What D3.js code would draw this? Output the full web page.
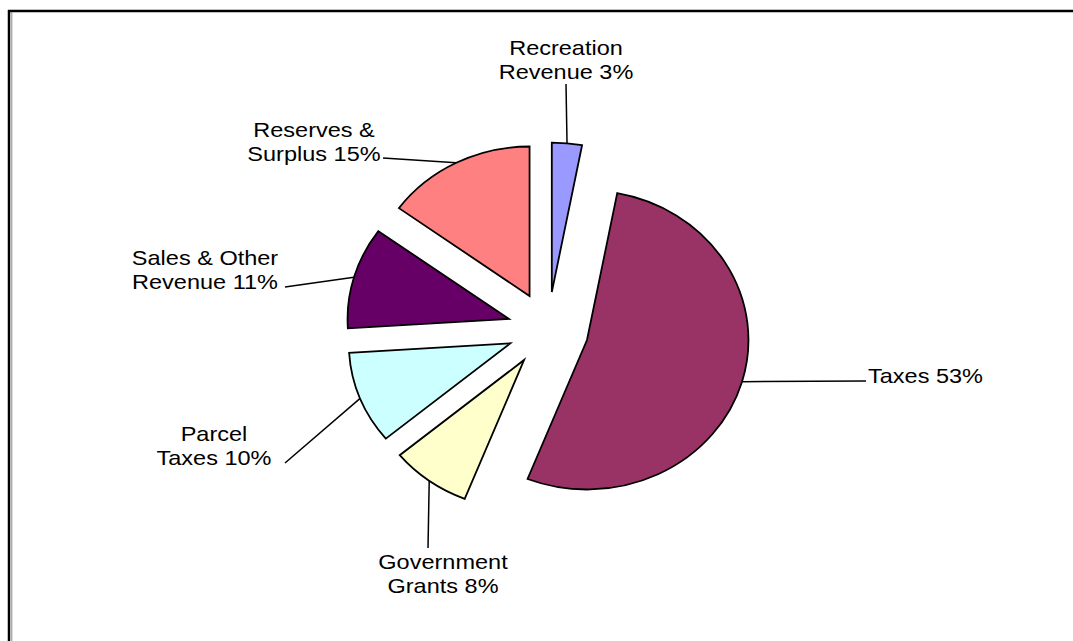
<!DOCTYPE html>
<html>
<head>
<meta charset="utf-8">
<script src="https://cdn.jsdelivr.net/npm/d3@7/dist/d3.min.js"></script>
<style>
  html, body { margin: 0; padding: 0; background: #fff; }
  svg { display: block; }
</style>
</head>
<body>
<svg id="chart" width="1073" height="641"></svg>
<script>
// ---- data ----
const categories = ["Recreation Revenue", "Taxes", "Government Grants", "Parcel Taxes", "Sales & Other Revenue", "Reserves & Surplus"];
const values = [3, 53, 8, 10, 11, 15];
const labelLines = [
  ["Recreation", "Revenue 3%"],
  ["Taxes 53%"],
  ["Government", "Grants 8%"],
  ["Parcel", "Taxes 10%"],
  ["Sales & Other", "Revenue 11%"],
  ["Reserves &", "Surplus 15%"]
];
const colors = ["#9999FF", "#993366", "#FFFFCC", "#CCFFFF", "#660066", "#FF8080"];

// ---- layout ----
const W = 1073, H = 641;
const cx = 548, cy = 329.5, R = 149.5, explode = 37.6, sx = 1.08;
const fontSize = 21, textSx = 1.12, lineH = 24;
const labelLayout = [
  { x: 566, y: 55, anchor: "middle", lx: 566, ly: 84 },
  { x: 868, y: 383, anchor: "start", lx: 866, ly: 381 },
  { x: 443, y: 569, anchor: "middle", lx: 428, ly: 548 },
  { x: 214, y: 441, anchor: "middle", lx: 285, ly: 463 },
  { x: 205, y: 265, anchor: "middle", lx: 285, ly: 287 },
  { x: 314, y: 137, anchor: "middle", lx: 383, ly: 158 }
];

const svg = d3.select("#chart");

// border (top and left, double line on left)
svg.append("line").attr("x1", 8).attr("y1", 11).attr("x2", W).attr("y2", 11)
  .attr("stroke", "#000").attr("stroke-width", 2.5);
svg.append("line").attr("x1", 9).attr("y1", 10).attr("x2", 9).attr("y2", H)
  .attr("stroke", "#000").attr("stroke-width", 2.5);
svg.append("line").attr("x1", 11.8).attr("y1", 12).attr("x2", 11.8).attr("y2", H)
  .attr("stroke", "#888").attr("stroke-width", 1);

const pie = d3.pie().sort(null).value(d => d).startAngle(0).endAngle(2 * Math.PI);
const arcs = pie(values);
const arc = d3.arc().innerRadius(0).outerRadius(R);

const g = svg.append("g").attr("transform", `translate(${cx},${cy}) scale(${sx},1)`);

g.selectAll("path").data(arcs).enter().append("path")
  .attr("transform", d => {
    const m = (d.startAngle + d.endAngle) / 2;
    return `translate(${explode * Math.sin(m)},${-explode * Math.cos(m)})`;
  })
  .attr("d", arc)
  .attr("fill", (d, i) => colors[i])
  .attr("stroke", "#000")
  .attr("stroke-width", 1.8)
  .attr("stroke-linejoin", "miter")
  .attr("vector-effect", "non-scaling-stroke");

// leader lines from slice arc midpoint to label
arcs.forEach((d, i) => {
  const m = (d.startAngle + d.endAngle) / 2;
  const rr = explode + R;
  const px = cx + sx * rr * Math.sin(m);
  const py = cy - rr * Math.cos(m);
  const L = labelLayout[i];
  svg.append("line")
    .attr("x1", px).attr("y1", py).attr("x2", L.lx).attr("y2", L.ly)
    .attr("stroke", "#000").attr("stroke-width", 1.5);
});

// labels
labelLines.forEach((lines, i) => {
  const L = labelLayout[i];
  lines.forEach((t, j) => {
    svg.append("text")
      .attr("transform", `translate(${L.x},${L.y + j * lineH}) scale(${textSx},1)`)
      .attr("text-anchor", L.anchor)
      .attr("font-family", "'Liberation Sans', Arial, sans-serif")
      .attr("font-size", fontSize)
      .attr("fill", "#000")
      .text(t);
  });
});
</script>
</body>
</html>
